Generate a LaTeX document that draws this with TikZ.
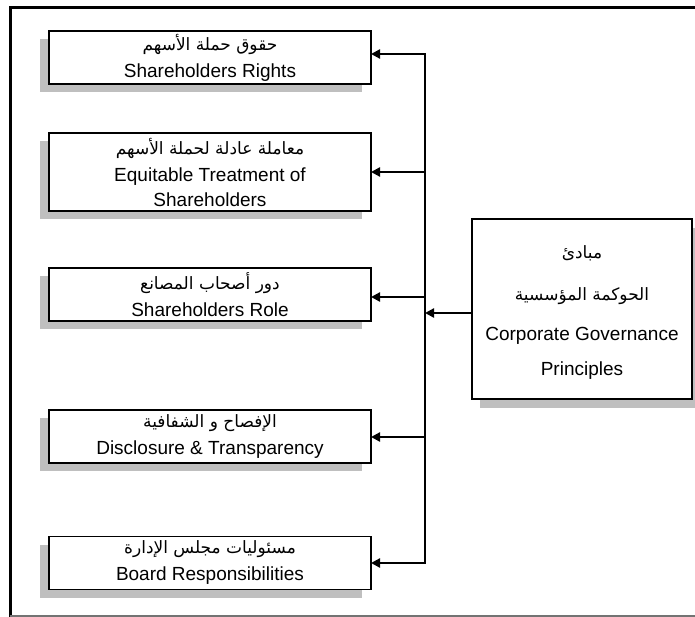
\documentclass[tikz,border=0pt]{standalone}
\usepackage{fontspec}
\setmainfont{Liberation Sans}
\newfontfamily\arabicfont[Script=Arabic]{DejaVu Sans}
\TeXXeTstate=1
\usetikzlibrary{arrows.meta,shadows}
\newcommand\artxt[1]{{\arabicfont\fontsize{17}{20}\selectfont\beginR #1\endR}}
\tikzset{
  lbox/.style={draw=black, line width=1.8pt, fill=white, minimum width=322pt,
    inner sep=0pt, outer sep=0pt, align=center,
    font=\fontsize{19}{25}\selectfont,
    general shadow={fill=black!25, shadow xshift=-9pt, shadow yshift=-8pt}},
  cbox/.style={draw=black, line width=2.8pt, fill=white, minimum width=220pt,
    minimum height=180pt, inner sep=0pt, outer sep=0pt,
    general shadow={fill=black!25, shadow xshift=8pt, shadow yshift=-9pt}},
  ctext/.style={inner sep=0pt, align=center, font=\fontsize{19}{35}\selectfont},
  conn/.style={line width=2.4pt, line join=miter},
  tip/.style={-{Triangle[length=9pt,width=9pt]}}
}
\begin{document}
\begin{tikzpicture}[x=1pt,y=-1pt]
\useasboundingbox (0,0) rectangle (695,617);
% outer frame
\draw[line width=3pt] (695,7.5) -- (10,7.5) -- (10,617);
\draw[black!55, line width=1.2pt] (10,616) -- (695,616);

% left boxes
\node[lbox, minimum height=53pt] (b1) at (210,57.5)
  {\artxt{حقوق حملة الأسهم}\\[2pt] Shareholders Rights};
\node[lbox, minimum height=78pt] (b2) at (210,172)
  {\artxt{معاملة عادلة لحملة الأسهم}\\[2pt] Equitable Treatment of\\ Shareholders};
\node[lbox, minimum height=53pt] (b3) at (210,294.5)
  {\artxt{دور أصحاب المصانع}\\[2pt] Shareholders Role};
\node[lbox, minimum height=53pt] (b4) at (210,436.5)
  {\artxt{الإفصاح و الشفافية}\\[2pt] Disclosure \& Transparency};
\node[lbox, minimum height=53pt] (b5) at (210,563)
  {\artxt{مسئوليات مجلس الإدارة}\\[2pt] Board Responsibilities};

% central box
\node[cbox] (c) at (582,309) {};
\node[ctext] (ct) at (582,313)
  {\artxt{مبادئ}\\[7pt] \artxt{الحوكمة المؤسسية}\\[5pt] Corporate Governance\\ Principles};

% bus
\coordinate (j1) at (425,54);
\coordinate (j2) at (425,172);
\coordinate (j3) at (425,297);
\coordinate (j4) at (425,437);
\coordinate (j5) at (425,563);
\coordinate (jc) at (425,313);

\draw[conn, {Triangle[length=9pt,width=9pt]}-{Triangle[length=9pt,width=9pt]}]
  (j1 -| b1.east) -- (j1) -- (j5) -- (j5 -| b5.east);
\draw[conn, tip] (j2) -- (j2 -| b2.east);
\draw[conn, tip] (j3) -- (j3 -| b3.east);
\draw[conn, tip] (j4) -- (j4 -| b4.east);
\draw[conn, tip] (jc -| c.west) -- (jc);
\end{tikzpicture}
\end{document}
